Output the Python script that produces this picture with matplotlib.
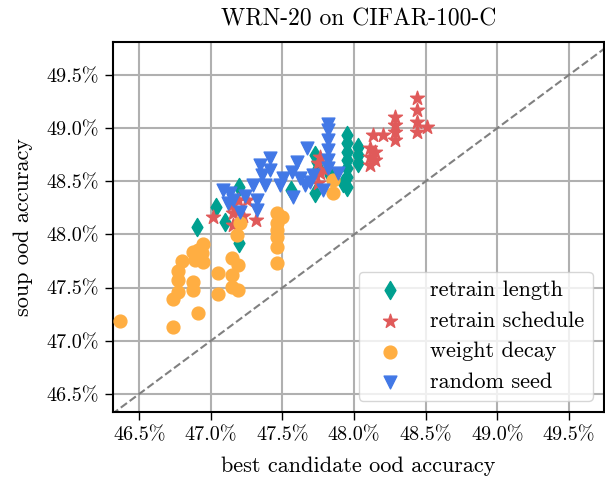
import matplotlib
matplotlib.use("Agg")
import matplotlib.pyplot as plt
import matplotlib.ticker as mticker

plt.rcParams["font.family"] = "serif"
plt.rcParams["font.serif"] = ["cmr10"]
plt.rcParams["mathtext.fontset"] = "cm"
plt.rcParams["axes.formatter.use_mathtext"] = True
plt.rcParams["axes.unicode_minus"] = False

# (best candidate ood acc, soup ood acc) in %
length_x = [46.905, 47.038, 47.101, 47.198, 47.198, 47.561, 47.729, 47.743, 47.750, 47.729,
            47.953, 47.953, 47.953, 47.953, 47.953, 47.953, 47.953, 48.029, 48.029, 48.029,
            47.925, 47.834]
length_y = [48.070, 48.258, 48.117, 48.445, 47.919, 48.417, 48.746, 48.680, 48.624, 48.389,
            48.934, 48.859, 48.774, 48.699, 48.624, 48.539, 48.445, 48.821, 48.746, 48.671,
            48.483, 48.558]

schedule_x = [47.017, 47.149, 47.156, 47.191, 47.254, 47.317, 47.156, 47.226, 47.750, 47.764,
              47.764, 47.750, 47.799, 48.113, 48.148, 48.113, 48.148, 48.113, 48.134, 48.204,
              48.288, 48.288, 48.288, 48.288, 48.441, 48.441, 48.441, 48.441, 48.511]
schedule_y = [48.164, 48.276, 48.201, 48.323, 48.323, 48.135, 48.088, 48.173, 48.671, 48.727,
              48.577, 48.483, 48.605, 48.812, 48.774, 48.727, 48.699, 48.652, 48.934, 48.934,
              49.103, 49.028, 48.962, 48.887, 49.282, 49.169, 49.056, 48.962, 49.009]

decay_x = [46.367, 46.737, 46.912, 46.737, 46.772, 46.877, 46.877, 46.772, 46.772, 46.800,
           46.877, 46.912, 46.947, 46.940, 46.947, 46.891, 47.052, 47.052, 47.149, 47.191,
           47.149, 47.149, 47.191, 47.184, 47.205, 47.464, 47.499, 47.464, 47.464, 47.464,
           47.464, 47.464, 47.855, 47.855]
decay_y = [47.186, 47.130, 47.261, 47.393, 47.459, 47.477, 47.553, 47.571, 47.656, 47.750,
           47.835, 47.853, 47.910, 47.825, 47.741, 47.759, 47.637, 47.440, 47.778, 47.712,
           47.618, 47.506, 47.477, 47.994, 48.107, 48.201, 48.164, 48.107, 48.041, 47.976,
           47.882, 47.731, 48.511, 48.389]

seed_x = [47.087, 47.135, 47.156, 47.205, 47.122, 47.240, 47.296, 47.324, 47.324, 47.345,
          47.359, 47.415, 47.415, 47.380, 47.506, 47.568, 47.575, 47.603, 47.673, 47.659,
          47.715, 47.694, 47.785, 47.820, 47.820, 47.820, 47.820, 47.820, 47.820, 47.890,
          47.624, 47.485]
seed_y = [48.417, 48.389, 48.323, 48.211, 48.295, 48.361, 48.464, 48.323, 48.229, 48.652,
          48.558, 48.718, 48.605, 48.464, 48.530, 48.586, 48.352, 48.680, 48.812, 48.464,
          48.558, 48.492, 48.417, 49.038, 48.981, 48.887, 48.793, 48.699, 48.624, 48.577,
          48.530, 48.464]

xlim = (46.318, 49.744)
ylim = (46.33, 49.81)
ticks = [46.5, 47.0, 47.5, 48.0, 48.5, 49.0, 49.5]

fig = plt.figure(figsize=(6.05, 4.78), dpi=100)
ax = fig.add_axes([0.187, 0.138, 0.811, 0.774])

ax.plot([46.0, 50.0], [46.0, 50.0], color="gray", linestyle="--", linewidth=1.5, zorder=1)
ax.scatter(length_x, length_y, marker="d", s=85, color="#00A090", label="retrain length", zorder=3)
ax.scatter(schedule_x, schedule_y, marker="*", s=110, color="#E05A5A", label="retrain schedule", zorder=3)
ax.scatter(decay_x, decay_y, marker="o", s=85, color="#FFAE42", label="weight decay", zorder=3)
ax.scatter(seed_x, seed_y, marker="v", s=85, color="#4278E6", label="random seed", zorder=3)

ax.set_xlim(xlim)
ax.set_ylim(ylim)
ax.set_xticks(ticks)
ax.set_yticks(ticks)
fmt = mticker.FuncFormatter(lambda v, pos: "%.1f%%" % v)
ax.xaxis.set_major_formatter(fmt)
ax.yaxis.set_major_formatter(fmt)
ax.tick_params(labelsize=14.5, length=6, width=1, pad=4)
ax.grid(True, color="#b0b0b0", linewidth=1.5)
ax.set_axisbelow(True)
for s in ax.spines.values():
    s.set_linewidth(1.5)

ax.set_xlabel("best candidate ood accuracy", fontsize=16, labelpad=9)
ax.set_ylabel("soup ood accuracy", fontsize=16, labelpad=10)
ax.set_title("WRN-20 on CIFAR-100-C", fontsize=17, pad=12)
ax.legend(loc="lower right", fontsize=16)

fig.savefig("out.png", dpi=100)
